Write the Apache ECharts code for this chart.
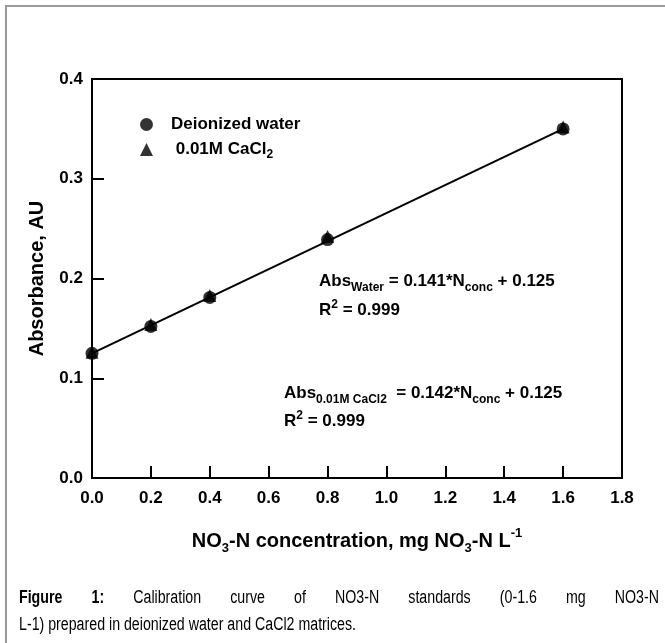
<!DOCTYPE html>
<html><head><meta charset="utf-8">
<script src="https://cdn.jsdelivr.net/npm/echarts@6/dist/echarts.min.js"></script>
<style>html,body{margin:0;padding:0;background:#fff}#c{width:665px;height:643px}</style>
</head><body><div id="c"></div>
<script>
// ---- data ----
const xTickLabels = ['0.0','0.2','0.4','0.6','0.8','1.0','1.2','1.4','1.6','1.8'];
const yTickLabels = ['0.0','0.1','0.2','0.3','0.4'];
const concentrations = [0, 0.2, 0.4, 0.8, 1.6];
const absWater = [0.125, 0.152, 0.181, 0.239, 0.350];
const absCaCl2 = [0.126, 0.154, 0.183, 0.242, 0.352];
const fitX = [0, 1.6];
const fitY = [0.125, 0.350];
const seriesNames = ['Deionized water', '0.01M CaCl2'];
const captionLine1 = 'Figure 1: Calibration curve of NO3-N standards (0-1.6 mg NO3-N';
const captionLine2 = 'L-1) prepared in deionized water and CaCl2 matrices.';

const FF = '"Liberation Sans", Arial, Helvetica, sans-serif';
const B = 'bold';
const chart = echarts.init(document.getElementById('c'), null, {renderer: 'canvas'});

function rich(main, sub, lh) {
  return {
    m: {fontSize: main, fontWeight: B, fontFamily: FF, color: '#000', lineHeight: lh, verticalAlign: 'middle'},
    s: {fontSize: sub, fontWeight: B, fontFamily: FF, color: '#000', lineHeight: lh, verticalAlign: 'bottom'},
    p: {fontSize: sub, fontWeight: B, fontFamily: FF, color: '#000', lineHeight: lh, verticalAlign: 'top'}
  };
}

// caption layout (justified first line, narrow font emulated by scaleX)
const cv = document.createElement('canvas').getContext('2d');
const capSize = 18;
cv.font = capSize + 'px "Liberation Sans"';
const line2W = cv.measureText(captionLine2).width;
const sx = 337 / line2W;
const words = captionLine1.split(' ');
const wW = words.map((w, i) => {
  cv.font = (i < 2 ? 'bold ' : '') + capSize + 'px "Liberation Sans"';
  return cv.measureText(w).width * sx;
});
const totalW = wW.reduce((a, b) => a + b, 0);
const gap = (640 - totalW) / (words.length - 1);
const capElems = [];
let cx = 19;
words.forEach((w, i) => {
  capElems.push({type: 'text', x: cx, y: 598, scaleX: sx, originX: 0,
    style: {text: w, font: (i < 2 ? 'bold ' : '') + capSize + 'px "Liberation Sans"', fill: '#000', verticalAlign: 'middle', align: 'left'}});
  cx += wW[i] + gap;
});
capElems.push({type: 'text', x: 19, y: 625, scaleX: sx, originX: 0,
  style: {text: captionLine2, font: capSize + 'px "Liberation Sans"', fill: '#000', verticalAlign: 'middle', align: 'left'}});

const option = {
  animation: false,
  backgroundColor: '#fff',
  grid: {left: 92, top: 79, width: 530, height: 399, show: true, borderColor: '#000', borderWidth: 2, backgroundColor: 'transparent'},
  legend: {
    orient: 'vertical', left: 135, top: 111, itemWidth: 13, itemHeight: 13, itemGap: 8,
    data: [{name: seriesNames[0], icon: 'circle'}, {name: seriesNames[1], icon: 'triangle'}],
    formatter: n => n === seriesNames[1] ? '{m| 0.01M CaCl}{s|2}' : '{m|Deionized water}',
    textStyle: {padding: [0, 0, 0, 13], rich: rich(17, 12, 22)},
    selectedMode: false
  },
  xAxis: {
    type: 'value', min: 0, max: 1.8, interval: 0.2,
    axisLine: {show: true, onZero: false, lineStyle: {color: '#000', width: 2}},
    axisTick: {show: true, inside: true, length: 12, lineStyle: {color: '#000', width: 2}},
    axisLabel: {color: '#000', fontSize: 17, fontWeight: B, fontFamily: FF, margin: 12,
      formatter: v => xTickLabels[Math.round(v / 0.2)]},
    splitLine: {show: false},
    name: '{m|NO}{s|3}{m|-N concentration, mg NO}{s|3}{m|-N L}{p|-1}',
    nameLocation: 'middle', nameGap: 49,
    nameTextStyle: {rich: rich(20, 13, 28)}
  },
  yAxis: {
    type: 'value', min: 0, max: 0.4, interval: 0.1,
    axisLine: {show: true, onZero: false, lineStyle: {color: '#000', width: 2}},
    axisTick: {show: true, inside: true, length: 12, lineStyle: {color: '#000', width: 2}},
    axisLabel: {color: '#000', fontSize: 17, fontWeight: B, fontFamily: FF, margin: 9,
      formatter: v => yTickLabels[Math.round(v / 0.1)]},
    splitLine: {show: false},
    name: 'Absorbance, AU', nameLocation: 'middle', nameRotate: 90, nameGap: 45,
    nameTextStyle: {color: '#000', fontSize: 20, fontWeight: B, fontFamily: FF}
  },
  series: [
    {name: 'fit', type: 'line', data: fitX.map((x, i) => [x, fitY[i]]), symbol: 'none',
      lineStyle: {color: '#000', width: 2}, silent: true, z: 1},
    {name: seriesNames[1], type: 'scatter', symbol: 'triangle', symbolSize: 13,
      itemStyle: {color: '#000'}, data: concentrations.map((x, i) => [x, absCaCl2[i]]), z: 2},
    {name: seriesNames[0], type: 'scatter', symbol: 'circle', symbolSize: 13,
      itemStyle: {color: '#000'}, data: concentrations.map((x, i) => [x, absWater[i]]), z: 3}
  ],
  graphic: [
    {type: 'rect', shape: {x: 6, y: 6, width: 720, height: 720}, style: {fill: 'none', stroke: '#9a9a9a', lineWidth: 2}, silent: true},
    {type: 'text', x: 319, y: 281, style: {text: '{m|Abs}{s|Water}{m| = 0.141*N}{s|conc}{m| + 0.125}', rich: rich(17, 12, 26), verticalAlign: 'middle', align: 'left'}},
    {type: 'text', x: 319, y: 310, style: {text: '{m|R}{p|2}{m| = 0.999}', rich: rich(17, 12, 22), verticalAlign: 'middle', align: 'left'}},
    {type: 'text', x: 284, y: 393, style: {text: '{m|Abs}{s|0.01M CaCl2}{m|  = 0.142*N}{s|conc}{m| + 0.125}', rich: rich(17, 12, 26), verticalAlign: 'middle', align: 'left'}},
    {type: 'text', x: 284, y: 421, style: {text: '{m|R}{p|2}{m| = 0.999}', rich: rich(17, 12, 22), verticalAlign: 'middle', align: 'left'}}
  ].concat(capElems)
};
chart.setOption(option);
</script></body></html>
